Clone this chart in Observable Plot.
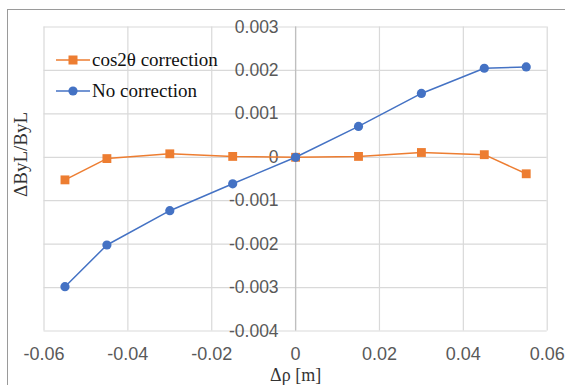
<!DOCTYPE html>
<html>
<head>
<meta charset="utf-8">
<script src="https://cdn.jsdelivr.net/npm/d3@7"></script>
<script src="https://cdn.jsdelivr.net/npm/@observablehq/plot@0.6"></script>
<style>
  html, body { margin: 0; padding: 0; background: #fff; overflow: hidden; }
  #wrap { position: relative; width: 565px; height: 385px; overflow: hidden; }
  #border { position: absolute; left: 7px; top: 9px; width: 620px; height: 420px; border: 1.5px solid #9a9a9a; box-sizing: border-box; }
  #chart { position: absolute; left: 0; top: 0; }
  #legend { position: absolute; left: 56px; top: 44px; font-family: "Liberation Serif", "Times New Roman", serif; font-size: 19px; color: #111; }
  .item { display: flex; align-items: center; height: 31px; }
  .item svg { margin-right: 2px; }
</style>
</head>
<body>
<div id="wrap">
  <div id="border"></div>
  <div id="chart"></div>
  <div id="legend"></div>
</div>
<script>
const dRho = [-0.055, -0.045, -0.03, -0.015, 0, 0.015, 0.03, 0.045, 0.055];
const cos2thetaCorrection = [-0.00052, -0.00003, 0.00008, 0.00002, 0, 0.00002, 0.00011, 0.00006, -0.00038];
const noCorrection = [-0.00298, -0.00202, -0.00123, -0.00061, 0, 0.00071, 0.00147, 0.00205, 0.00208];
const seriesNames = ["cos2θ correction", "No correction"];
const seriesColors = ["#ED7D31", "#4472C4"];
const xTicks = [-0.06, -0.04, -0.02, 0, 0.02, 0.04, 0.06];
const yTicks = [-0.004, -0.003, -0.002, -0.001, 0, 0.001, 0.002, 0.003];
const xTitle = "Δρ [m]";
const yTitle = "ΔByL/ByL";

const rows = [];
dRho.forEach((x, i) => {
  rows.push({series: seriesNames[0], x, y: cos2thetaCorrection[i]});
});
dRho.forEach((x, i) => {
  rows.push({series: seriesNames[1], x, y: noCorrection[i]});
});
const orange = rows.filter(d => d.series === seriesNames[0]);
const blue = rows.filter(d => d.series === seriesNames[1]);

const sans = "Liberation Sans, Arial, sans-serif";
const serif = "Liberation Serif, Times New Roman, serif";

const plot = Plot.plot({
  width: 565,
  height: 385,
  marginLeft: 43.5,
  marginRight: 18.3,
  marginTop: 26.5,
  marginBottom: 54.5,
  style: {background: "transparent", overflow: "visible"},
  x: {domain: [-0.06, 0.06], axis: null},
  y: {domain: [-0.004, 0.003], axis: null},
  marks: [
    Plot.gridX(xTicks, {stroke: "#d9d9d9", strokeOpacity: 1, strokeWidth: 1.2}),
    Plot.gridY(yTicks, {stroke: "#d9d9d9", strokeOpacity: 1, strokeWidth: 1.2}),
    Plot.ruleX([0], {stroke: "#bfbfbf", strokeWidth: 1.3}),
    Plot.axisX(xTicks, {label: null, tickSize: 0, tickPadding: 16, tickFormat: d => String(d), fontSize: 18, fontFamily: sans, fill: "#595959"}),
    Plot.text(yTicks, {x: 0, y: d => d, text: d => String(d), textAnchor: "end", dx: -17, fontSize: 17.5, fontFamily: sans, fill: "#595959"}),
    Plot.text([xTitle], {frameAnchor: "bottom", lineAnchor: "middle", dy: 44.5, fontSize: 18, fontFamily: serif, fill: "#333"}),
    Plot.text([yTitle], {frameAnchor: "left", lineAnchor: "middle", rotate: -90, dx: -23.5, dy: 18, fontSize: 19, fontFamily: serif, fill: "#333"}),
    Plot.line(orange, {x: "x", y: "y", stroke: seriesColors[0], strokeWidth: 1.5}),
    Plot.dot(orange, {x: "x", y: "y", symbol: "square", r: 5, fill: seriesColors[0], stroke: "none"}),
    Plot.line(blue, {x: "x", y: "y", stroke: seriesColors[1], strokeWidth: 1.5}),
    Plot.dot(blue, {x: "x", y: "y", symbol: "circle", r: 4.6, fill: seriesColors[1], stroke: "none"})
  ]
});
document.getElementById("chart").appendChild(plot);

const legend = document.getElementById("legend");
seriesNames.forEach((name, i) => {
  const item = document.createElement("div");
  item.className = "item";
  const marker = i === 0
    ? `<rect x="12.5" y="5.5" width="9" height="9" fill="${seriesColors[i]}"/>`
    : `<circle cx="17" cy="10" r="4.6" fill="${seriesColors[i]}"/>`;
  item.innerHTML = `<svg width="34" height="20"><line x1="0" x2="34" y1="10" y2="10" stroke="${seriesColors[i]}" stroke-width="1.5"/>${marker}</svg><span>${name}</span>`;
  legend.appendChild(item);
});
</script>
</body>
</html>
